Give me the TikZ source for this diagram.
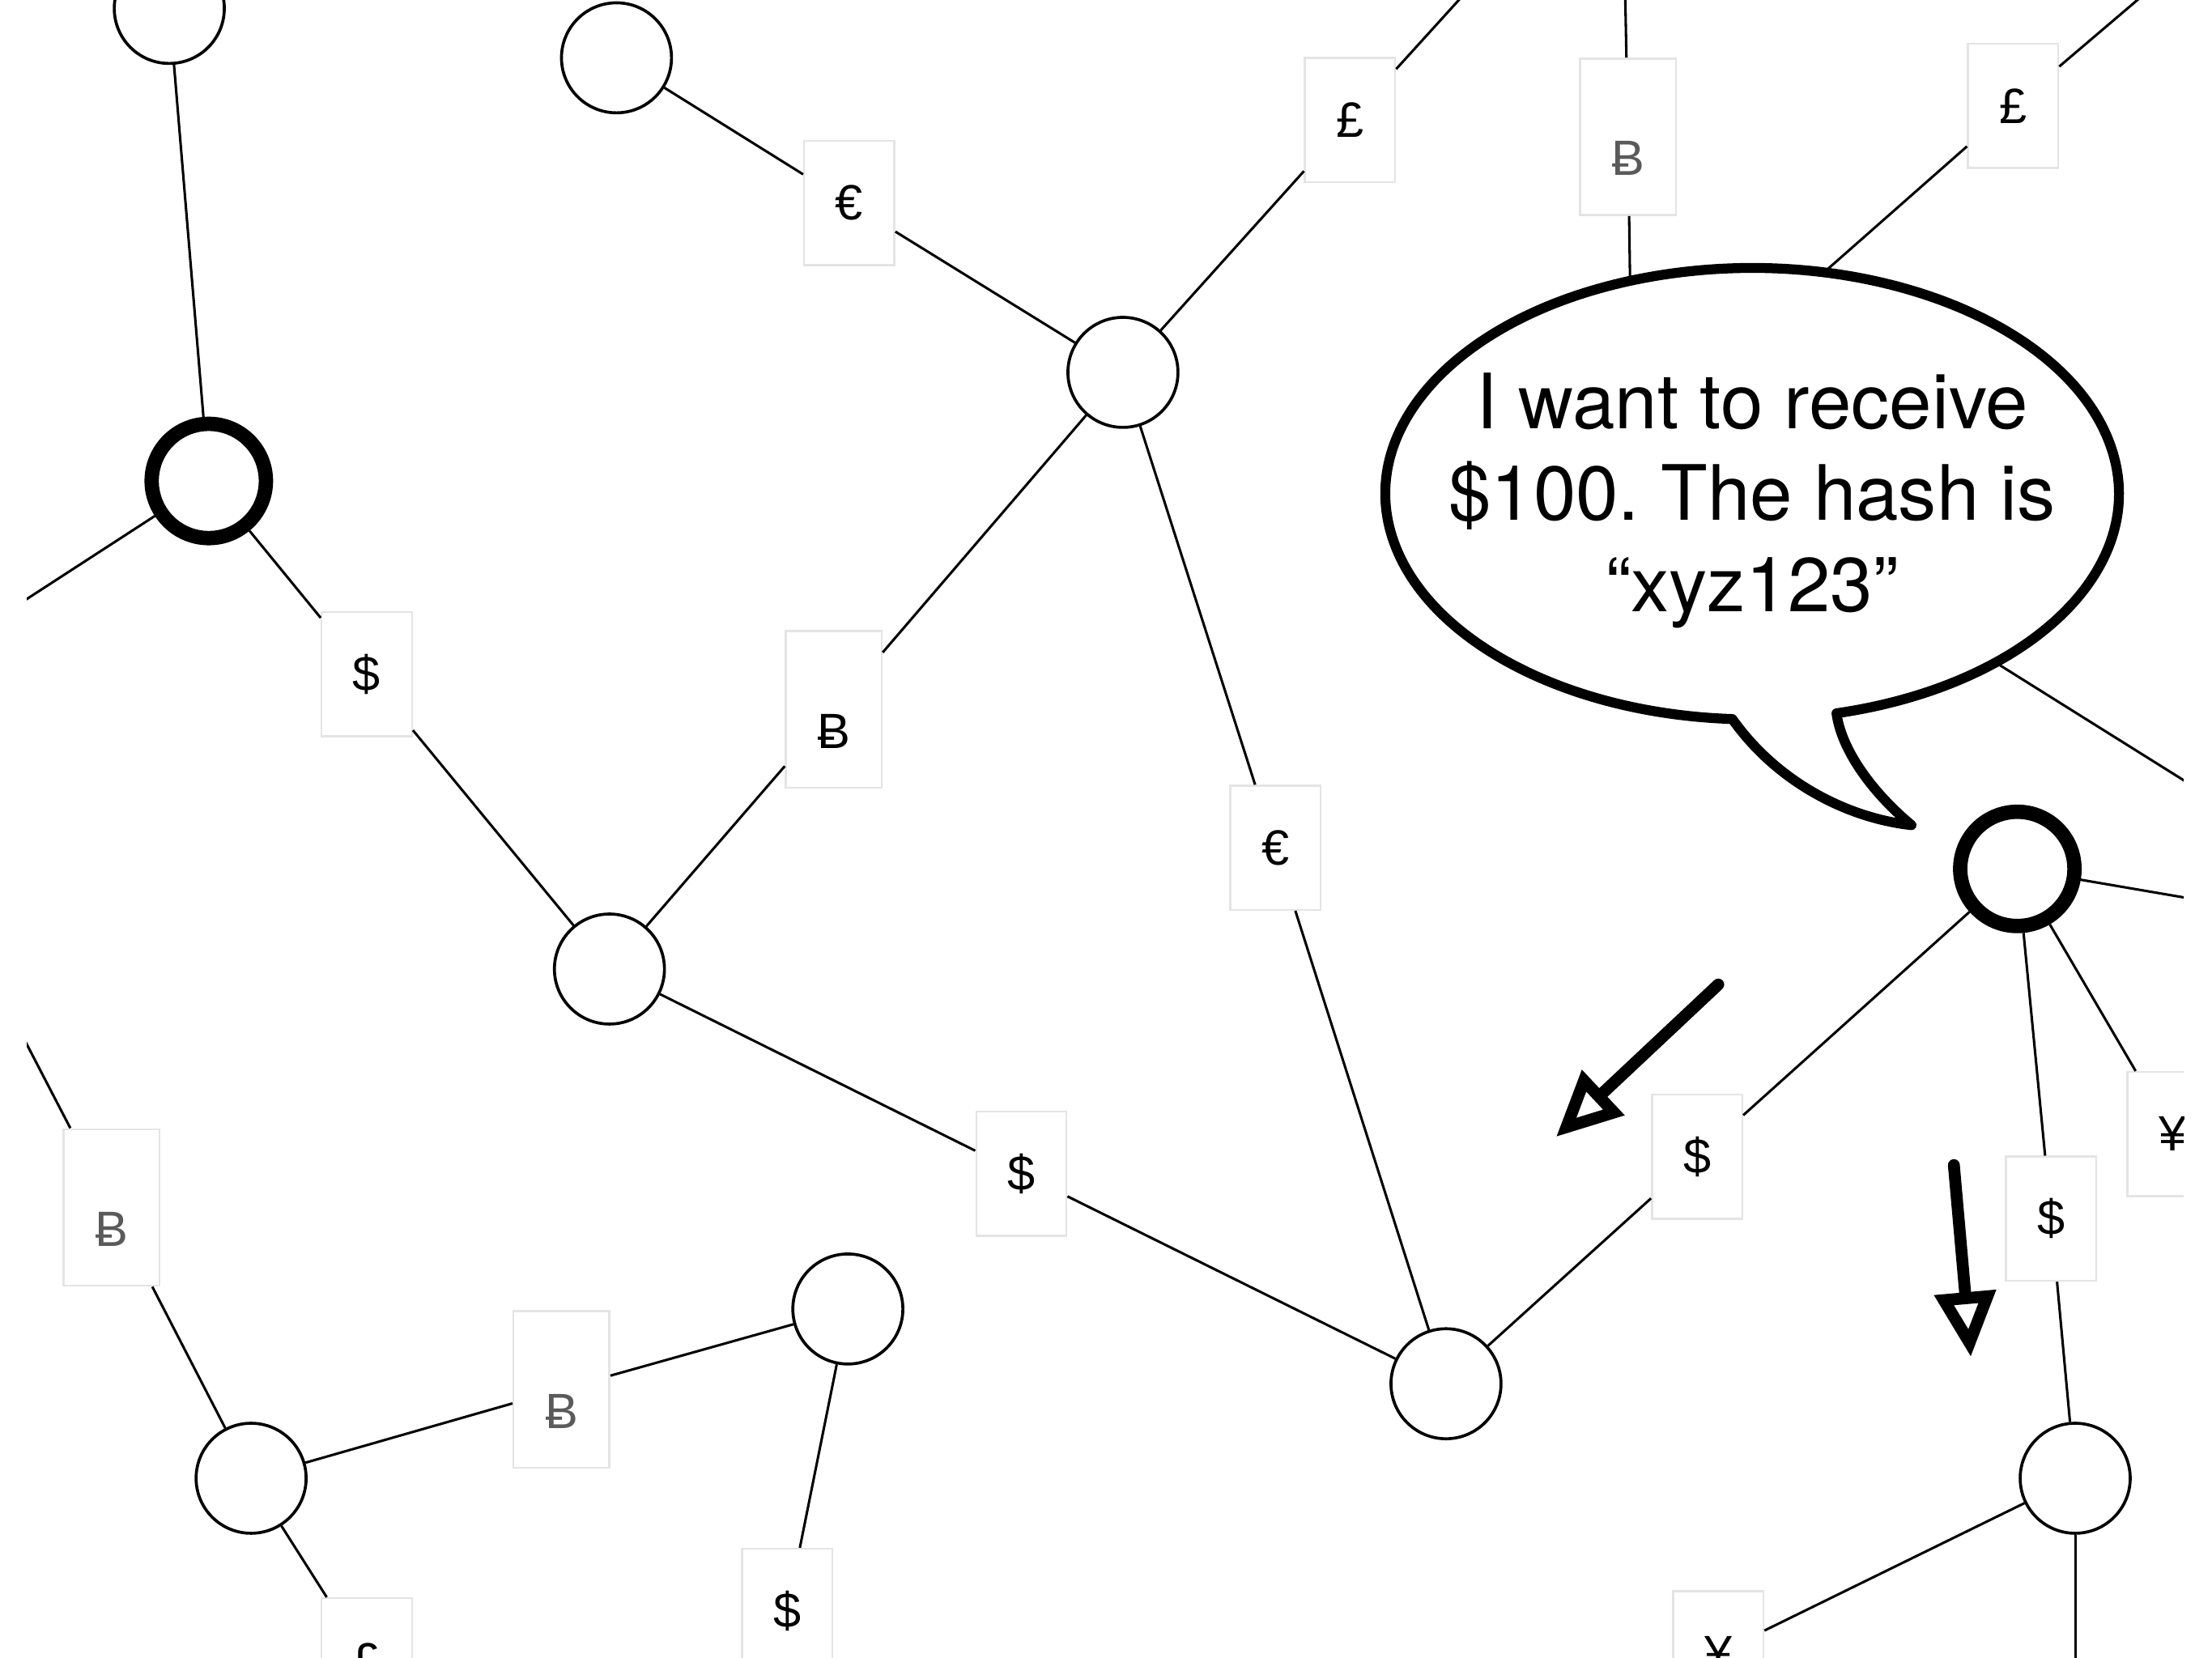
\documentclass[tikz,border=0pt]{standalone}
\usepackage{fontspec}
\setmainfont{TeX Gyre Heros}
\newfontfamily\coinfont{Liberation Sans}
\usetikzlibrary{arrows.meta}
\definecolor{CoinGray}{HTML}{5A5A5A}
\definecolor{BoxEdge}{HTML}{E4E4E4}
\frenchspacing

\begin{document}
\begin{tikzpicture}[
  peer/.style={circle, minimum size=0.78cm, inner sep=0pt, draw=black, line width=0.6pt, fill=white},
  hubpeer/.style={circle, minimum size=0.81cm, inner sep=0pt, draw=black, line width=2.9pt, fill=white},
  coin/.style={rectangle, minimum width=0.64cm, minimum height=0.88cm, inner sep=0pt, draw=BoxEdge, line width=0.4pt, fill=white, font=\coinfont\fontsize{10pt}{12pt}\selectfont},
  btccoin/.style={coin, minimum width=0.68cm, minimum height=1.11cm, text height=6mm, text depth=0.5mm, text=CoinGray},
  link/.style={line width=0.5pt},
  bubble/.style={line width=2pt, fill=white, line join=round},
  hint/.style={line width=2.4pt, line cap=round, -{Triangle[open, length=4.6mm, width=4.2mm]}},
]
\useasboundingbox (0,0) rectangle (15.68,11.75);
\clip (0.19,0) rectangle (15.48,11.75);

% --- peers ---
\node[peer] (p1) at (1.20,11.69) {};
\node[peer] (p2) at (4.37,11.34) {};
\node[hubpeer] (p3) at (1.48,8.34) {};
\node[peer] (p4) at (7.96,9.11) {};
\node[peer] (p5) at (4.32,4.88) {};
\node[peer] (p6) at (10.25,1.94) {};
\node[peer] (p7) at (6.01,2.47) {};
\node[peer] (p8) at (1.78,1.27) {};
\node[hubpeer] (p9) at (14.30,5.59) {};
\node[peer] (p10) at (14.71,1.27) {};

% --- currencies on the channels ---
\node[coin] (c1) at (6.02,10.31) {€};
\node[coin] (c2) at (9.57,10.90) {£};
\node[btccoin] (c3) at (11.54,10.78) {Ƀ};
\node[coin] (c4) at (14.27,11.00) {£};
\node[coin] (c5) at (2.60,6.97) {\$};
\node[btccoin, text=black] (c6) at (5.91,6.72) {Ƀ};
\node[coin] (c7) at (9.04,5.74) {€};
\node[coin] (c8) at (7.24,3.43) {\$};
\node[coin] (c9) at (12.03,3.55) {\$};
\node[coin] (c10) at (14.54,3.11) {\$};
\node[coin] (c11) at (15.40,3.71) {¥};
\node[btccoin] (c12) at (0.79,3.19) {Ƀ};
\node[btccoin] (c13) at (3.98,1.90) {Ƀ};
\node[coin] (c14) at (5.58,0.33) {\$};
\node[coin] (c15) at (2.60,-0.02) {£};
\node[coin] (c16) at (12.18,0.03) {¥};

% loose ends past the frame or under the bubble
\coordinate (w1) at (0.00,7.38);
\coordinate (w2) at (0.10,4.52);
\coordinate (t1) at (10.45,11.87);
\coordinate (t2) at (11.52,11.80);
\coordinate (t3) at (15.21,11.80);
\coordinate (e1) at (15.70,5.35);
\coordinate (e2) at (15.70,6.08);
\coordinate (s1) at (14.71,-0.10);
\coordinate (u1) at (11.58,8.00);
\coordinate (u2) at (12.00,9.00);
\coordinate (u3) at (13.00,7.77);

% --- channels ---
\draw[link] (p1) -- (p3);
\draw[link] (p3) -- (w1);
\draw[link] (p3) -- (c5) -- (p5);
\draw[link] (p2) -- (c1) -- (p4);
\draw[link] (p4) -- (c2) -- (t1);
\draw[link] (p4) -- (c6) -- (p5);
\draw[link] (p4) -- (c7) -- (p6);
\draw[link] (p5) -- (c8) -- (p6);
\draw[link] (p6) -- (c9) -- (p9);
\draw[link] (p9) -- (c10) -- (p10);
\draw[link] (p9) -- (c11);
\draw[link] (p9) -- (e1);
\draw[link] (t2) -- (c3) -- (u1);
\draw[link] (t3) -- (c4) -- (u2);
\draw[link] (e2) -- (u3);
\draw[link] (w2) -- (c12) -- (p8);
\draw[link] (p8) -- (c13) -- (p7);
\draw[link] (p7) -- (c14);
\draw[link] (p8) -- (c15);
\draw[link] (p10) -- (c16);
\draw[link] (p10) -- (s1);

% --- speech bubble ---
\draw[bubble] (12.42,8.25) ++(283.3:2.6 and 1.6)
  arc[start angle=283.3, end angle=626.9, x radius=2.6, y radius=1.6]
  .. controls (12.60,6.20) and (13.10,5.95) .. (13.55,5.90)
  .. controls (13.25,6.15) and (13.05,6.45) .. cycle;
\node[align=center, font=\fontsize{15.4pt}{18.4pt}\selectfont] (say) at (12.42,8.20)
  {I want to receive\\\$100. The hash is\\“xyz123”};

% --- payment direction ---
\coordinate (a1s) at (12.18,4.77);
\coordinate (a1e) at (11.03,3.69);
\coordinate (a2s) at (13.85,3.49);
\coordinate (a2e) at (13.97,2.13);
\draw[hint] (a1s) -- (a1e);
\draw[hint] (a2s) -- (a2e);

\end{tikzpicture}
\end{document}
